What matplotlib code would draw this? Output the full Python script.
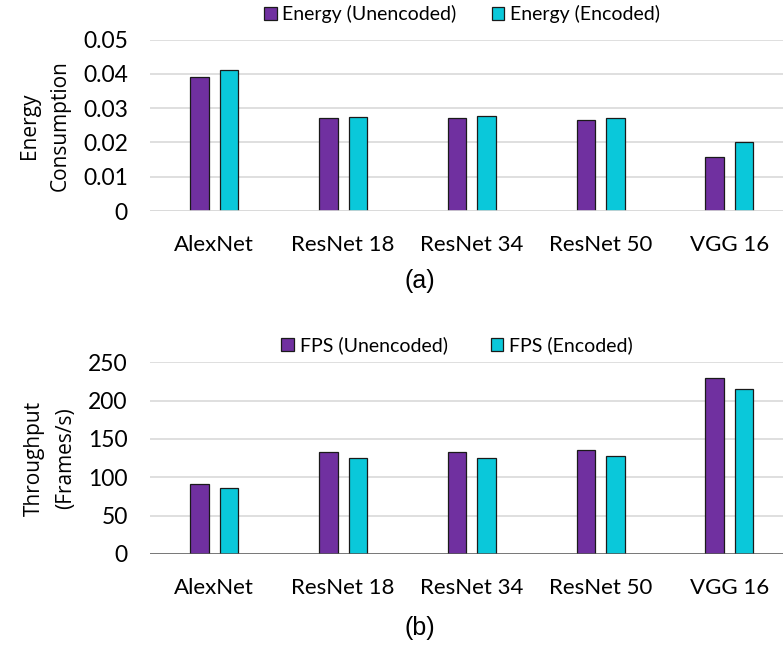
import numpy as np
import matplotlib
matplotlib.use("Agg")
import matplotlib.pyplot as plt

models = ["AlexNet", "ResNet 18", "ResNet 34", "ResNet 50", "VGG 16"]
energy_unencoded = [0.0391, 0.0270, 0.0270, 0.0264, 0.0157]
energy_encoded = [0.0411, 0.0274, 0.0277, 0.0271, 0.0201]
fps_unencoded = [91.7, 132.6, 132.6, 136.1, 229.1]
fps_encoded = [85.7, 124.8, 124.8, 127.8, 214.8]

PURPLE = "#7030A0"
CYAN = "#0AC8DA"
GRID = "#D9D9D9"
TICK_FONT = "Lato"
LABEL_FONT = "Open Sans"

W, H = 783, 647
fig = plt.figure(figsize=(W / 100, H / 100), dpi=100)

x = np.arange(len(models))
bw = 0.144
off = 0.115


def panel(ax, a, b, labels, yticks, ylabel, ylim, zero_dark):
    ax.bar(x - off, a, bw, color=PURPLE, edgecolor="#1a1a1a", linewidth=0.9, label=labels[0], zorder=3)
    ax.bar(x + off, b, bw, color=CYAN, edgecolor="#1a1a1a", linewidth=0.9, label=labels[1], zorder=3)
    ax.set_xlim(-0.5, 4.417)
    ax.set_ylim(*ylim)
    ax.set_yticks(yticks)
    ax.set_xticks(x)
    ax.set_xticklabels(models, fontfamily=TICK_FONT, fontsize=16)
    for t in ax.get_yticklabels():
        t.set_fontfamily(TICK_FONT)
        t.set_fontsize(16.5)
    ax.tick_params(axis="both", length=0, colors="black")
    ax.tick_params(axis="x", pad=17)
    ax.tick_params(axis="y", pad=16)
    ax.grid(axis="y", color=GRID, linewidth=1.2, zorder=0)
    for s in ax.spines.values():
        s.set_visible(False)
    ax.axhline(0, color="#595959" if zero_dark else GRID, linewidth=1.8 if zero_dark else 1.2, zorder=4)
    ax.set_ylabel(ylabel, fontfamily=LABEL_FONT, fontsize=15, linespacing=1.6, labelpad=9)


ax1 = fig.add_axes([150 / W, 1 - 211 / H, 633 / W, (211 - 39.5) / H])
panel(ax1, energy_unencoded, energy_encoded, ["Energy (Unencoded)", "Energy (Encoded)"],
      [0, 0.01, 0.02, 0.03, 0.04, 0.05], "Energy\nConsumption", (0, 0.05), False)
ax1.set_yticklabels(["0", "0.01", "0.02", "0.03", "0.04", "0.05"])
ax1.legend(loc="center", bbox_to_anchor=(462 / W, 1 - 14 / H), bbox_transform=fig.transFigure,
           ncol=2, frameon=False, prop={"family": TICK_FONT, "size": 14},
           handlelength=0.65, handleheight=0.65, handletextpad=0.3, columnspacing=1.8)
fig.text(420 / W, 1 - 281 / H, "(a)", ha="center", va="center", fontfamily="Liberation Sans", fontsize=18)

ax2 = fig.add_axes([150 / W, 1 - 554 / H, 633 / W, (554 - 362.3) / H])
panel(ax2, fps_unencoded, fps_encoded, ["FPS (Unencoded)", "FPS (Encoded)"],
      [0, 50, 100, 150, 200, 250], "Throughput\n(Frames/s)", (0, 250), True)
ax2.legend(loc="center", bbox_to_anchor=(457 / W, 1 - 345 / H), bbox_transform=fig.transFigure,
           ncol=2, frameon=False, prop={"family": TICK_FONT, "size": 14},
           handlelength=0.65, handleheight=0.65, handletextpad=0.3, columnspacing=2.2)
fig.text(420 / W, 1 - 628 / H, "(b)", ha="center", va="center", fontfamily="Liberation Sans", fontsize=18)

fig.savefig("out.png", dpi=100, facecolor="white")
